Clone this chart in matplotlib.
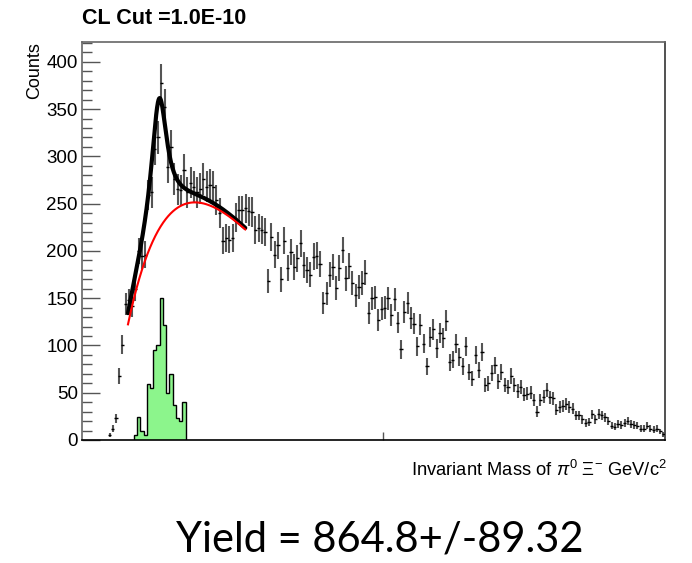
import numpy as np
import matplotlib
matplotlib.use("Agg")
import matplotlib.pyplot as plt
from matplotlib.ticker import MultipleLocator

# ---- histogram binning (GeV/c^2) ----
x_lo, x_hi, n_bins = 1.34, 2.24, 180
first_data_bin = 8

# Counts per bin, starting at bin `first_data_bin`
counts = [
    5, 12, 23, 68, 101, 144, 148, 142, 160, 200,
    195, 196, 259, 262, 308, 320, 378, 352, 289, 310,
    276, 265, 264, 286, 262, 272, 268, 262, 266, 276,
    268, 270, 268, 254, 240, 211, 214, 212, 214, 235,
    243, 243, 245, 242, 241, 222, 224, 222, 220, 168,
    215, 196, 206, 170, 211, 182, 199, 183, 192, 208,
    185, 180, 175, 194, 195, 186, 145, 155, 175, 183,
    161, 182, 201, 171, 184, 166, 153, 162, 166, 177,
    134, 150, 151, 127, 139, 140, 150, 132, 149, 124,
    96, 135, 145, 129, 123, 99, 122, 102, 78, 109,
    117, 97, 113, 108, 126, 82, 85, 102, 88, 78,
    99, 72, 65, 90, 74, 93, 58, 60, 71, 79,
    62, 72, 58, 56, 68, 58, 52, 56, 48, 49,
    50, 42, 30, 42, 46, 53, 45, 44, 32, 35,
    36, 38, 35, 33, 26, 26, 22, 18, 19, 27,
    22, 28, 26, 24, 20, 15, 14, 17, 16, 18,
    20, 17, 16, 15, 12, 12, 15, 12, 11, 12,
    9, 6,
]

# Background-subtracted signal histogram (green)
signal_first_bin = 16
signal_counts = [5, 24, 10, 5, 59, 55, 95, 100, 150, 122,
                 50, 70, 37, 23, 20, 40]

# ---- fit function parameters ----
fit_lo, fit_hi = 1.411, 1.592
# background: p0 * (x - x0)^p1 * exp(-p2 * (x - x0))
bkg_p0, bkg_x0, bkg_p1, bkg_p2 = 4475.0, 1.383, 0.95, 7.24
# signal: Breit-Wigner peak
sig_amp, sig_mean, sig_gamma = 138.0, 1.459, 0.0147

title = "CL Cut =1.0E-10"
yield_text = "Yield = 864.8+/-89.32"


def background(x):
    u = np.clip(x - bkg_x0, 1e-9, None)
    return bkg_p0 * u ** bkg_p1 * np.exp(-bkg_p2 * u)


def total(x):
    return background(x) + sig_amp / (1.0 + ((x - sig_mean) / sig_gamma) ** 2)


edges = np.linspace(x_lo, x_hi, n_bins + 1)
width = edges[1] - edges[0]
centers = 0.5 * (edges[:-1] + edges[1:])

y = np.array(counts, dtype=float)
err = np.sqrt(y)
xc = centers[first_data_bin:first_data_bin + len(y)]

plt.rcParams['font.family'] = ['Liberation Sans', 'DejaVu Sans']
plt.rcParams['mathtext.fontset'] = 'custom'
plt.rcParams['mathtext.rm'] = 'Liberation Sans'
plt.rcParams['mathtext.it'] = 'Liberation Sans:italic'

fig = plt.figure(figsize=(6.92, 5.63), dpi=100)
ax = fig.add_axes([82 / 692, 1 - 440 / 563, (665 - 82) / 692, (440 - 42) / 563])

# signal histogram
sig_edges = edges[signal_first_bin:signal_first_bin + len(signal_counts) + 1]
ax.stairs(signal_counts, sig_edges, fill=True, color='#8cf58c', zorder=1)
ax.stairs(signal_counts, sig_edges, fill=False, color='black', lw=1.0, zorder=2)

# data points: vertical error bars and bin-width markers
ax.vlines(xc, y - err, y + err, color='#555555', lw=1.5, zorder=3)
ax.hlines(y, xc - width / 2, xc + width / 2, color='black', lw=1.0, zorder=3)

# fit curves
xf = np.linspace(fit_lo, fit_hi, 400)
ax.plot(xf, total(xf), color='black', lw=3.0, zorder=4, solid_capstyle='round')
ax.plot(xf, background(xf), color='#ff0000', lw=1.5, zorder=5)

ax.set_xlim(x_lo, x_hi)
ax.set_ylim(0, 421)

ax.yaxis.set_major_locator(MultipleLocator(50))
ax.yaxis.set_minor_locator(MultipleLocator(10))
ax.set_xticks([1.805])
ax.set_xticklabels([''])
ax.tick_params(axis='y', which='major', direction='in', length=13, width=1.0,
               labelsize=13.5, pad=3, color='#555555')
ax.tick_params(axis='y', which='minor', direction='in', length=7, width=1.0,
               color='#555555')
ax.tick_params(axis='x', which='major', direction='in', length=6, width=1.0,
               color='#555555')

for side in ('top', 'left'):
    ax.spines[side].set_color('#666666')
    ax.spines[side].set_linewidth(1.2)
ax.spines['bottom'].set_color('black')
ax.spines['bottom'].set_linewidth(1.2)
ax.spines['right'].set_color('#333333')
ax.spines['right'].set_linewidth(1.2)

fig.text(82 / 692, 1 - 19 / 563, title, fontsize=15.5, fontweight='bold',
         ha='left', va='center')
fig.text(35 / 692, 1 - 42 / 563, 'Counts', fontsize=13, rotation=90,
         ha='center', va='top')
fig.text(667 / 692, 1 - 470 / 563,
         r'Invariant Mass of $\pi^{0}$ $\Xi^{-}$ GeV/c$^{2}$',
         fontsize=13.2, ha='right', va='center')
fig.text(380 / 692, 1 - 540 / 563, yield_text, fontsize=30,
         family=['Lato', 'DejaVu Sans'], ha='center', va='center')

fig.savefig('out.png', dpi=100)
